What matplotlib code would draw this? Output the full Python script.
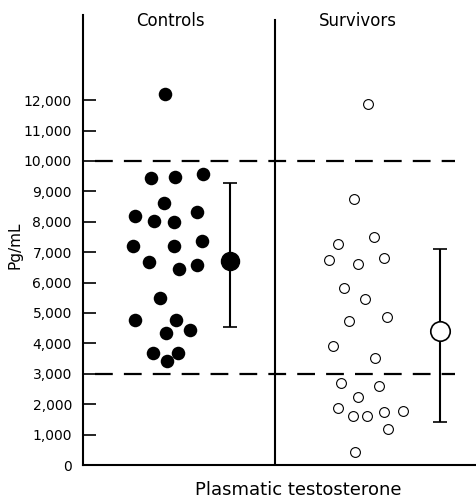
import matplotlib
matplotlib.use("Agg")
import matplotlib.pyplot as plt
from matplotlib.ticker import FuncFormatter

# valeurs (pg/mL)
groups = ["Controls", "Survivors"]

controls = [12200, 9430, 9480, 9560, 8630, 8190, 8020, 8000, 8330,
            7200, 7200, 7370, 6690, 6440, 6580, 5480, 4770, 4770,
            4440, 4330, 3690, 3690, 3420]
controls_jitter = [-0.016, -0.090, 0.036, 0.184, -0.021, -0.172, -0.071, 0.031, 0.149,
                   -0.184, 0.033, 0.176, -0.097, 0.056, 0.149, -0.042, -0.172, 0.042,
                   0.115, -0.012, -0.077, 0.054, -0.004]

survivors = [11870, 8740, 7490, 7260, 6740, 6600, 6820, 5810, 5460,
             4740, 4860, 3920, 3510, 2690, 2600, 2250, 1880, 1610,
             1610, 1750, 1790, 1180, 420]
survivors_jitter = [0.040, -0.030, 0.074, -0.116, -0.160, -0.012, 0.125, -0.082, 0.026,
                    -0.056, 0.139, -0.139, 0.078, -0.099, 0.101, -0.012, -0.116, -0.038,
                    0.035, 0.125, 0.226, 0.144, -0.026]

# moyenne et barre (lues)
means = [6720, 4410]
bar_low = [4550, 1420]
bar_high = [9260, 7100]

# limites de la zone normale
ref_limits = [10000, 3000]

yticks = list(range(0, 13000, 1000))

fig = plt.figure(figsize=(4.77, 4.98), dpi=100)
ax = fig.add_axes([83 / 477, 33 / 498, 394 / 477, 450 / 498])
ax.set_xlim(0.557, 2.609)
ax.set_ylim(0, 14800)

# points individuels
ax.scatter([1 + j for j in controls_jitter], controls, s=95, color="black",
           zorder=3, linewidths=0)
ax.scatter([2 + j for j in survivors_jitter], survivors, s=50, facecolor="white",
           edgecolor="black", linewidths=0.8, zorder=3)

# moyenne +/- barre
mean_x = [1.323, 2.417]
for i in range(2):
    ax.errorbar(mean_x[i], means[i],
                yerr=[[means[i] - bar_low[i]], [bar_high[i] - means[i]]],
                fmt="none", ecolor="black", elinewidth=1.5, capsize=5,
                capthick=1.2, zorder=2)
ax.plot(mean_x[0], means[0], "o", color="black", markersize=13, zorder=4)
ax.plot(mean_x[1], means[1], "o", markerfacecolor="white", markeredgecolor="black",
        markeredgewidth=1.2, markersize=14, zorder=4)

# lignes pointillées
for v in ref_limits:
    ax.plot([0.62, 2.495], [v, v], color="black", lw=1.6, dashes=(8, 5), zorder=1)

# séparation des groupes
ax.plot([1.557, 1.557], [0, 14630], color="black", lw=1.5, zorder=1)

for x, name in zip([1.01, 1.99], groups):
    ax.text(x, 14600, name, ha="center", va="center", fontsize=12)

ax.spines["top"].set_visible(False)
ax.spines["right"].set_visible(False)
ax.spines["left"].set_linewidth(1.5)
ax.spines["bottom"].set_linewidth(1.5)

ax.set_xticks([])
ax.set_yticks(yticks)
ax.yaxis.set_major_formatter(FuncFormatter(lambda v, p: f"{int(v):,}"))
ax.tick_params(axis="y", direction="in", length=9, width=1.2, pad=8, labelsize=10)

fig.text(15 / 477, 1 - 245 / 498, "Pg/mL", rotation=90, ha="center", va="center",
         fontsize=11)
fig.text(298 / 477, 1 - 490 / 498, "Plasmatic testosterone", ha="center",
         va="center", fontsize=13)

fig.savefig("out.png", dpi=100)
